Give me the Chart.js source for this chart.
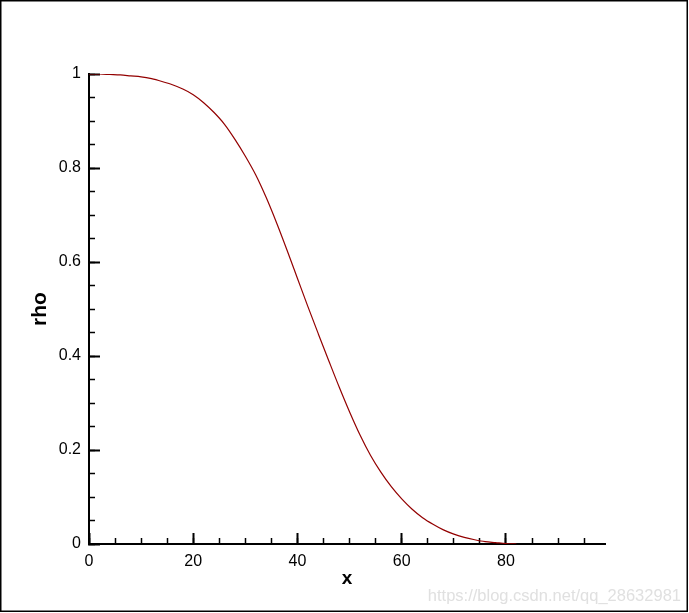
<!DOCTYPE html>
<html>
<head>
<meta charset="utf-8">
<script src="https://cdn.jsdelivr.net/npm/chart.js@4"></script>
<style>
  html, body { margin:0; padding:0; background:#fff; }
  canvas { display:block; }
</style>
</head>
<body>
<canvas id="rhoChart" width="689" height="613"></canvas>
<script>
// density profile
const xValues   = [0,2,4,6,8,10,12,14,16,18,20,22,24,26,28,30,32,34,36,38,40,42,44,46,48,50,52,54,56,58,60,62,64,66,68,70,72,74,76,78,80,82];
const rhoValues = [1.000,1.000,0.999,0.998,0.996,0.994,0.990,0.984,0.977,0.968,0.956,0.939,0.918,0.893,0.861,0.825,0.785,0.737,0.683,0.625,0.565,0.505,0.447,0.390,0.334,0.281,0.232,0.189,0.153,0.122,0.096,0.074,0.056,0.042,0.030,0.021,0.014,0.009,0.005,0.003,0.001,0.000];
const xRange = [0, 99];
const yRange = [0, 1];
const watermark = 'https://blog.csdn.net/qq_28632981';

Chart.defaults.font.family = '"Liberation Sans", Arial, Helvetica, sans-serif';
Chart.defaults.color = '#000';

// outer frame + faint source watermark
const framePlugin = {
  id:'frame',
  afterDraw(chart){
    const ctx = chart.ctx;
    ctx.save();
    ctx.strokeStyle = '#000'; ctx.lineWidth = 1.5;
    ctx.strokeRect(0.75, 0.75, 686.5, 610.5);
    ctx.fillStyle = '#e0e0e0';
    ctx.font = '16.5px "Liberation Sans", Arial, sans-serif';
    ctx.textAlign = 'right'; ctx.textBaseline = 'alphabetic';
    ctx.fillText(watermark, 681, 601);
    ctx.restore();
  }
};

const tickFont = { size:16 };
const plainNum = v => String(Math.round(v*1000)/1000);

new Chart(document.getElementById('rhoChart').getContext('2d'), {
  type:'line',
  data:{
    datasets:[{
      data: xValues.map((x,i)=>({x:x, y:rhoValues[i]})),
      borderColor:'#930000', borderWidth:1.2, pointRadius:0,
      cubicInterpolationMode:'monotone', fill:false,
      xAxisID:'x', yAxisID:'y'
    }]
  },
  options:{
    responsive:false, animation:false,
    layout:{ padding:{ left:0, top:74, right:84, bottom:0 } },
    plugins:{ legend:{display:false}, tooltip:{enabled:false} },
    scales:{
      x:{
        type:'linear', position:'bottom', min:xRange[0], max:xRange[1],
        afterFit(s){ s.height = 69; },
        border:{ display:true, color:'#000', width:2 },
        grid:{ drawOnChartArea:false, drawTicks:true, tickLength:-11, tickColor:'#000', tickWidth:2 },
        ticks:{ stepSize:20, includeBounds:false, padding:19, font:tickFont, maxRotation:0, callback:plainNum },
        title:{ display:true, text:'x', font:{ size:19, weight:'bold' }, padding:{ top:0, bottom:23 } }
      },
      y:{
        type:'linear', position:'left', min:yRange[0], max:yRange[1],
        afterFit(s){ s.width = 89; },
        border:{ display:true, color:'#000', width:2 },
        grid:{ drawOnChartArea:false, drawTicks:true, tickLength:-11, tickColor:'#000', tickWidth:2 },
        ticks:{ stepSize:0.2, includeBounds:false, padding:19, font:tickFont, callback:plainNum },
        title:{ display:true, text:'rho', font:{ size:21, weight:'bold' }, padding:{ top:28, bottom:0 } }
      },
      xMinor:{
        type:'linear', position:{ y:0 }, min:xRange[0], max:xRange[1],
        border:{ display:false },
        grid:{ drawOnChartArea:false, drawTicks:true, tickLength:-6, tickColor:'#000', tickWidth:1.5 },
        ticks:{ stepSize:5, includeBounds:false, display:false }
      },
      yMinor:{
        type:'linear', position:{ x:0 }, min:yRange[0], max:yRange[1],
        border:{ display:false },
        grid:{ drawOnChartArea:false, drawTicks:true, tickLength:-6, tickColor:'#000', tickWidth:1.5 },
        ticks:{ stepSize:0.05, includeBounds:false, display:false }
      }
    }
  },
  plugins:[framePlugin]
});
</script>
</body>
</html>
